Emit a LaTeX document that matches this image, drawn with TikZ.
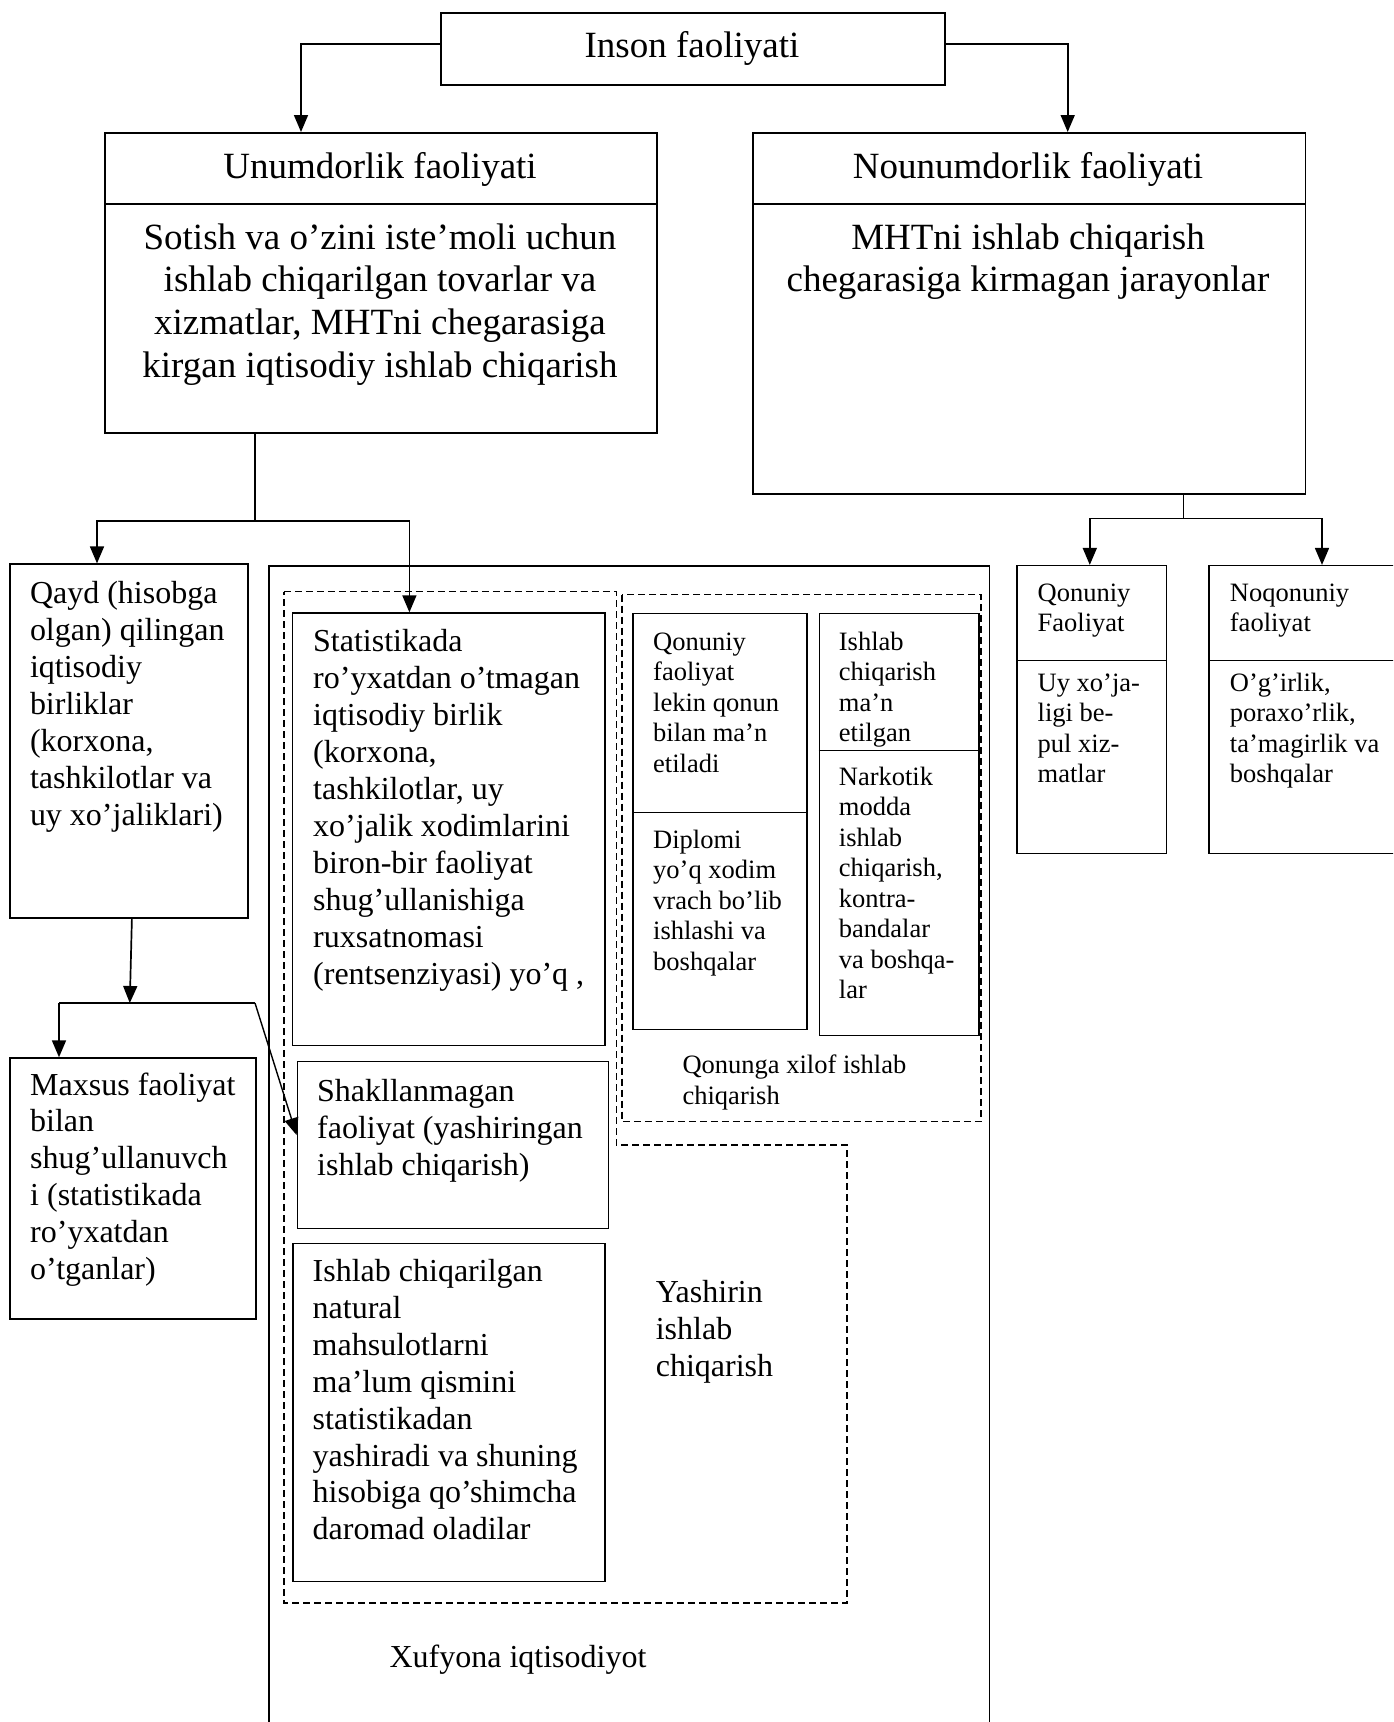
\documentclass[tikz,border=0pt]{standalone}
\usepackage{fontspec}
\setmainfont{Liberation Serif}
\usetikzlibrary{arrows.meta}
\newcommand{\fBig}{\fontsize{37}{42.7}\selectfont}
\newcommand{\fMed}{\fontsize{32}{36.9}\selectfont}
\newcommand{\fSml}{\fontsize{26.5}{30.5}\selectfont}
\newcommand{\Ls}[1]{\begin{tabular}[t]{@{}l@{}}#1\end{tabular}}
\newcommand{\Cs}[1]{\begin{tabular}[t]{@{}c@{}}#1\end{tabular}}
\begin{document}
\begin{tikzpicture}[x=1pt,y=-1pt,
  boxx/.style={draw, line width=1.5pt, inner sep=0pt, anchor=north west},
  txt/.style={inner sep=0pt, anchor=base west},
  ctxt/.style={inner sep=0pt, anchor=base},
  arr/.style={line width=1.7pt, -{Triangle[length=17pt,width=14pt]}},
  conn/.style={line width=1.3pt},
  dsh/.style={line width=1.4pt, dash pattern=on 7pt off 4pt}]
\useasboundingbox (0,0) rectangle (1393,1722);
\fill[white] (0,0) rectangle (1393,1722);
\clip (0,0) rectangle (1393,1722);

% boxes
\node[boxx, minimum width=504pt, minimum height=72pt] (inson) at (440,12) {};
\node[boxx, minimum width=552pt, minimum height=300pt] (unum) at (104,132) {};
\node[boxx, minimum width=552.5pt, minimum height=361pt] (noun) at (752,132) {};
\draw[line width=1.5pt] (unum.west |- 0,204) -- (unum.east |- 0,204);
\draw[line width=1.5pt] (noun.west |- 0,204) -- (noun.east |- 0,204);

\node[boxx, minimum width=238.3pt, minimum height=353.6pt] (qayd) at (9,563.4) {};
\node[boxx, minimum width=246pt, minimum height=260.7pt] (maxsus) at (9,1057.3) {};
\node[boxx, minimum width=720.5pt, minimum height=1250pt] (xuf) at (268,565) {};
\node[boxx, minimum width=312.2pt, minimum height=432.2pt] (stat) at (291.8,612.3) {};
\node[boxx, minimum width=311.2pt, minimum height=167.2pt] (shakl) at (296.6,1060.7) {};
\node[boxx, minimum width=312pt, minimum height=337.7pt] (ishl) at (292,1242.9) {};
\node[boxx, minimum width=174.4pt, minimum height=416pt] (bA) at (632,612.7) {};
\draw[line width=1.5pt] (bA.west |- 0,812.5) -- (bA.east |- 0,812.5);
\node[boxx, minimum width=159.8pt, minimum height=422.1pt] (bB) at (818.5,612.7) {};
\draw[line width=1.5pt] (bB.west |- 0,750.5) -- (bB.east |- 0,750.5);
\node[boxx, minimum width=149.2pt, minimum height=287.8pt] (qf) at (1016.3,564.9) {};
\draw[line width=1.5pt] (qf.west |- 0,660.6) -- (qf.east |- 0,660.6);
\node[boxx, minimum width=241pt, minimum height=287.8pt] (nq) at (1208,564.9) {};
\draw[line width=1.5pt] (nq.west |- 0,660.6) -- (nq.east |- 0,660.6);

% dashed outlines
\draw[dsh] (283.8,591.6) -- (616.3,591.6) -- (616.3,1145) -- (847,1145) -- (847,1603) -- (283.8,1603) -- cycle;
\draw[dsh] (621.8,594.7) rectangle (980.9,1121.7);

% connectors
\draw[arr] ([yshift=5pt]inson.west) -| ([xshift=197pt]unum.north west);
\draw[arr] ([yshift=5pt]inson.east) -| ([xshift=315.7pt]noun.north west);

\coordinate (j1) at (255,521);
\coordinate (qa) at (97,521);
\coordinate (sa) at (409.4,521);
\draw[conn] (unum.south -| j1) -- (j1);
\draw[arr] (j1) -- (qa) -- (qa |- qayd.north);
\draw[arr] (j1) -- (sa) -- (sa |- stat.north);

\coordinate (j2) at (1183.4,518.6);
\coordinate (qfa) at (1089.8,518.6);
\coordinate (nqa) at (1322,518.6);
\draw[conn] (noun.south -| j2) -- (j2);
\draw[arr] (j2) -- (qfa) -- (qfa |- qf.north);
\draw[arr] (j2) -- (nqa) -- (nqa |- nq.north);

\coordinate (j3) at (129.8,1003);
\coordinate (j4) at (59,1003);
\coordinate (j5) at (255,1003);
\draw[arr] ([xshift=3pt]qayd.south) -- (j3);
\draw[conn] (j4) -- (j5);
\draw[arr] (j4) -- (j4 |- maxsus.north);
\draw[arr, line width=1.4pt] (j5) -- ([yshift=10pt]shakl.west);

% texts
\node[ctxt, font=\fBig] (tInson) at (692,57) {Inson faoliyati};
\node[ctxt, font=\fBig] (tUnum) at (380,178.6) {Unumdorlik faoliyati};
\node[ctxt, font=\fBig] (tUnumB) at (380,249) {\Cs{Sotish va o’zini iste’moli uchun\\ishlab chiqarilgan tovarlar va\\xizmatlar, MHTni chegarasiga\\kirgan iqtisodiy ishlab chiqarish}};
\node[ctxt, font=\fBig] (tNoun) at (1028,178.6) {Nounumdorlik faoliyati};
\node[ctxt, font=\fBig] (tNounB) at (1028,249) {\Cs{MHTni ishlab chiqarish\\chegarasiga kirmagan jarayonlar}};

\node[txt, font=\fMed] (tQayd) at (29.8,603.7) {\Ls{Qayd (hisobga\\olgan) qilingan\\iqtisodiy\\birliklar\\(korxona,\\tashkilotlar va\\uy xo’jaliklari)}};
\node[txt, font=\fMed] (tMaxsus) at (30,1095) {\Ls{Maxsus faoliyat\\bilan\\shug’ullanuvch\\i (statistikada\\ro’yxatdan\\o’tganlar)}};
\node[txt, font=\fMed] (tStat) at (313,651.9) {\Ls{Statistikada\\ro’yxatdan o’tmagan\\iqtisodiy birlik\\(korxona,\\tashkilotlar, uy\\xo’jalik xodimlarini\\biron-bir faoliyat\\shug’ullanishiga\\ruxsatnomasi\\(rentsenziyasi) yo’q ,}};
\node[txt, font=\fMed] (tShakl) at (317,1101.4) {\Ls{Shakllanmagan\\faoliyat (yashiringan\\ishlab chiqarish)}};
\node[txt, font=\fMed] (tIshl) at (312.5,1281.5) {\Ls{Ishlab chiqarilgan\\natural\\mahsulotlarni\\ma’lum qismini\\statistikadan\\yashiradi va shuning\\hisobiga qo’shimcha\\daromad oladilar}};
\node[txt, font=\fMed] (tYash) at (655.6,1302.9) {\Ls{Yashirin\\ishlab\\chiqarish}};
\node[ctxt, font=\fMed] (tXuf) at (518,1667) {Xufyona iqtisodiyot};

\node[txt, font=\fSml] (tA1) at (653,650.2) {\Ls{Qonuniy\\faoliyat\\lekin qonun\\bilan ma’n\\etiladi}};
\node[txt, font=\fSml] (tA2) at (653,848) {\Ls{Diplomi\\yo’q xodim\\vrach bo’lib\\ishlashi va\\boshqalar}};
\node[txt, font=\fSml] (tB1) at (838.7,650.2) {\Ls{Ishlab\\chiqarish\\ma’n\\etilgan}};
\node[txt, font=\fSml] (tB2) at (838.7,785) {\Ls{Narkotik\\modda\\ishlab\\chiqarish,\\kontra-\\bandalar\\va boshqa-\\lar}};
\node[txt, font=\fSml] (tQx) at (682.4,1073.9) {\Ls{Qonunga xilof ishlab\\chiqarish}};
\node[txt, font=\fSml] (tQf1) at (1037.5,601.2) {\Ls{Qonuniy\\Faoliyat}};
\node[txt, font=\fSml] (tQf2) at (1037.5,691) {\Ls{Uy xo’ja-\\ligi be-\\pul xiz-\\matlar}};
\node[txt, font=\fSml] (tNq1) at (1229.7,601.2) {\Ls{Noqonuniy\\faoliyat}};
\node[txt, font=\fSml] (tNq2) at (1229.7,691) {\Ls{O’g’irlik,\\poraxo’rlik,\\ta’magirlik va\\boshqalar}};
\end{tikzpicture}
\end{document}
